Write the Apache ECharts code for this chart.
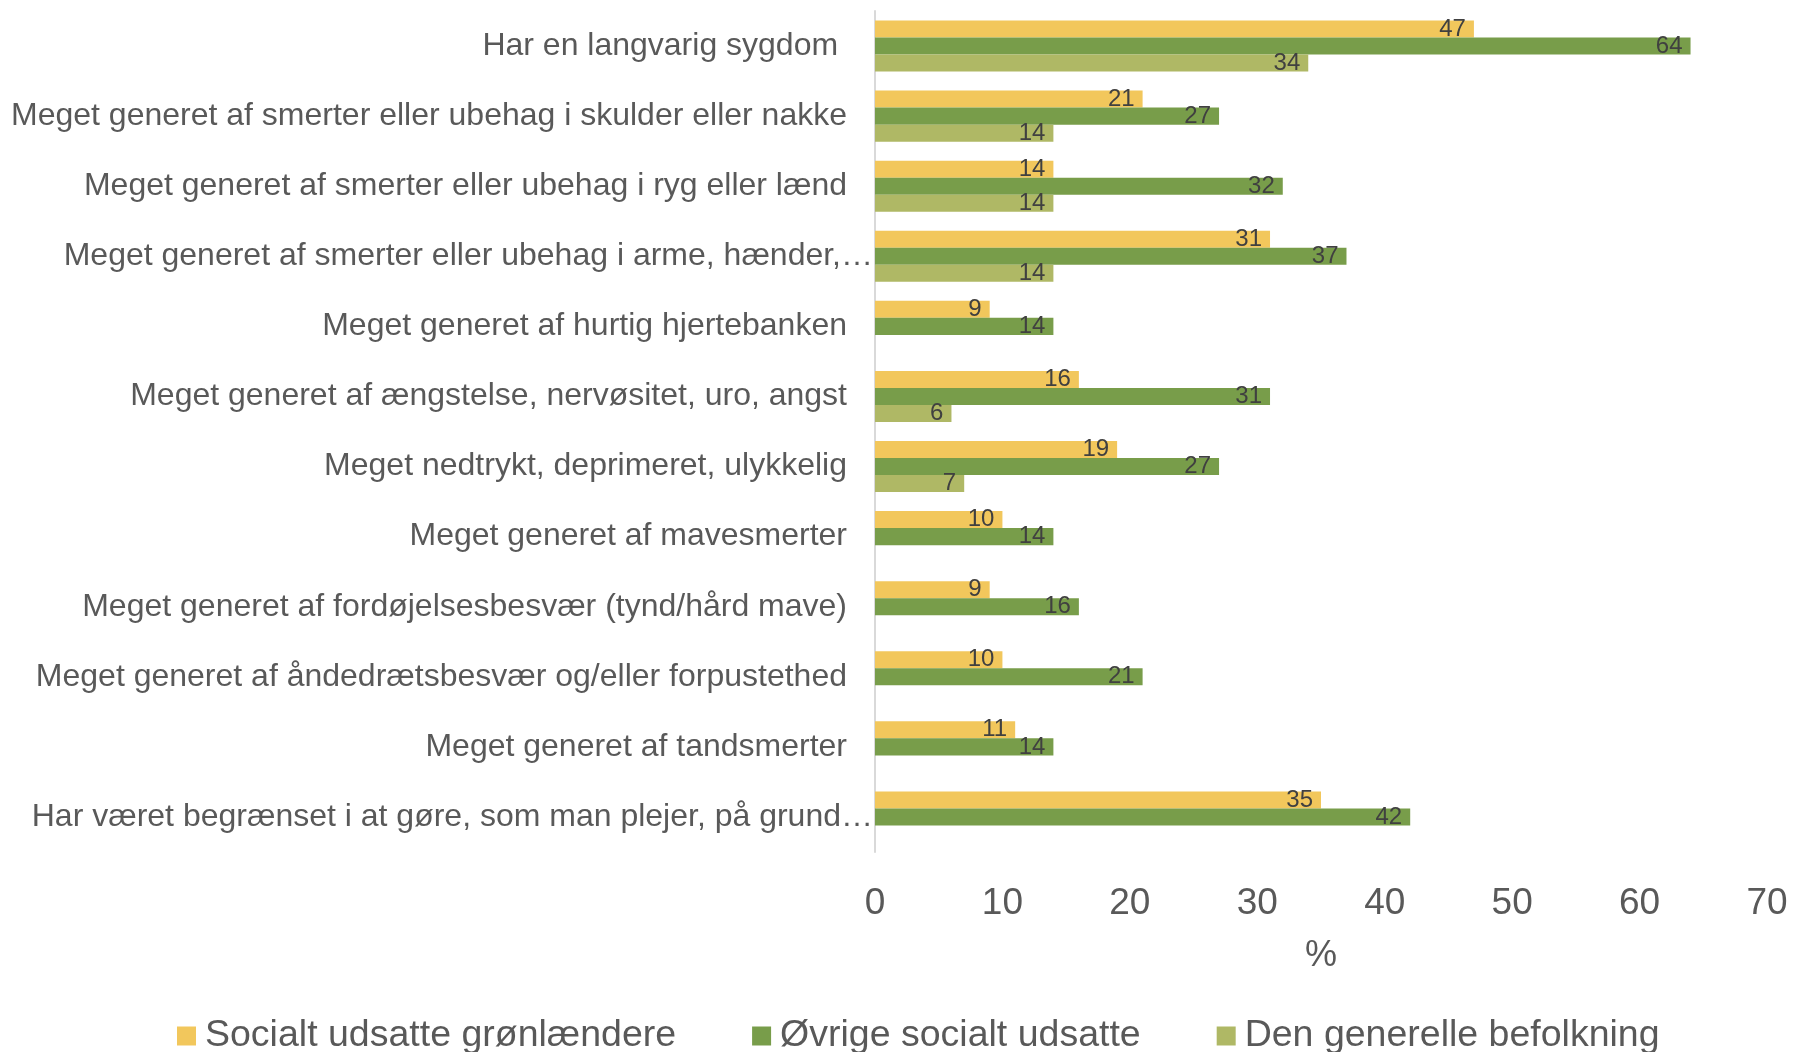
<!DOCTYPE html>
<html lang="da">
<head>
    <meta charset="UTF-8">
    <title>index</title>
    <script src="https://cdn.jsdelivr.net/npm/echarts@6/dist/echarts.min.js"></script>
    <style>
        html, body { margin: 0; padding: 0; background: #fff; }
    </style>
</head>
<body>
    <div id="main" style="width:1794px;height:1052px"></div>
    <script>
        // kategorier (oppefra og ned)
        var categories = [
            "Har en langvarig sygdom ",
            "Meget generet af smerter eller ubehag i skulder eller nakke",
            "Meget generet af smerter eller ubehag i ryg eller lænd",
            "Meget generet af smerter eller ubehag i arme, hænder,…",
            "Meget generet af hurtig hjertebanken",
            "Meget generet af ængstelse, nervøsitet, uro, angst",
            "Meget nedtrykt, deprimeret, ulykkelig",
            "Meget generet af mavesmerter",
            "Meget generet af fordøjelsesbesvær (tynd/hård mave)",
            "Meget generet af åndedrætsbesvær og/eller forpustethed",
            "Meget generet af tandsmerter",
            "Har været begrænset i at gøre, som man plejer, på grund…"
        ];
        var seriesNames = ["Socialt udsatte grønlændere", "Øvrige socialt udsatte", "Den generelle befolkning"];
        var groenlaendere = [47, 21, 14, 31, 9, 16, 19, 10, 9, 10, 11, 35];
        var oevrige = [64, 27, 32, 37, 14, 31, 27, 14, 16, 21, 14, 42];
        var befolkning = [34, 14, 14, 14, null, 6, 7, null, null, null, null, null];
        var xTicks = [0, 10, 20, 30, 40, 50, 60, 70];

        var colors = ["#f2c75c", "#789d4a", "#afb865"];
        var values = [groenlaendere, oevrige, befolkning];

        var mCharts = echarts.init(document.getElementById('main'));

        var seriesArr = values.map(function (arr, i) {
            return {
                name: seriesNames[i],
                type: 'bar',
                data: arr,
                barCategoryGap: '27%',
                barGap: '0%',
                itemStyle: { color: colors[i] },
                label: {
                    show: true,
                    position: 'insideRight',
                    distance: 8,
                    color: '#404040',
                    fontFamily: 'Liberation Sans',
                    fontSize: 24,
                    padding: [2, 0, 0, 0]
                }
            };
        });

        var option = {
            backgroundColor: '#fff',
            animation: false,
            textStyle: { fontFamily: 'Liberation Sans' },
            grid: { left: 875, right: 27, top: 11, bottom: 200 },
            legend: {
                data: seriesNames,
                bottom: -8,
                left: 172,
                itemWidth: 19,
                itemHeight: 19,
                itemGap: 76,
                icon: 'rect',
                textStyle: { fontSize: 37.5, color: '#595959', fontFamily: 'Liberation Sans', padding: [0, 0, 0, 4] }
            },
            xAxis: {
                type: 'value',
                min: xTicks[0],
                max: xTicks[xTicks.length - 1],
                interval: 10,
                name: '%',
                nameLocation: 'middle',
                nameGap: 86,
                nameTextStyle: { fontSize: 36, color: '#595959' },
                axisLine: { show: false },
                axisTick: { show: false },
                splitLine: { show: false },
                axisLabel: { fontSize: 37, color: '#595959', margin: 33 }
            },
            yAxis: {
                type: 'category',
                data: categories,
                inverse: true,
                axisLine: { show: true, lineStyle: { color: '#d9d9d9', width: 2 } },
                axisTick: { show: false },
                axisLabel: {
                    fontSize: 32,
                    color: '#595959',
                    margin: 2,
                    // afkortede etiketter går helt ind til aksen
                    formatter: function (v) {
                        return v.slice(-1) === '…' ? '{t|' + v + '}' : '{n|' + v + '}';
                    },
                    rich: {
                        n: { fontSize: 32, color: '#595959', padding: [0, 26, 0, 0] },
                        t: { fontSize: 32, color: '#595959' }
                    }
                }
            },
            series: seriesArr
        };

        mCharts.setOption(option);
    </script>
</body>
</html>
